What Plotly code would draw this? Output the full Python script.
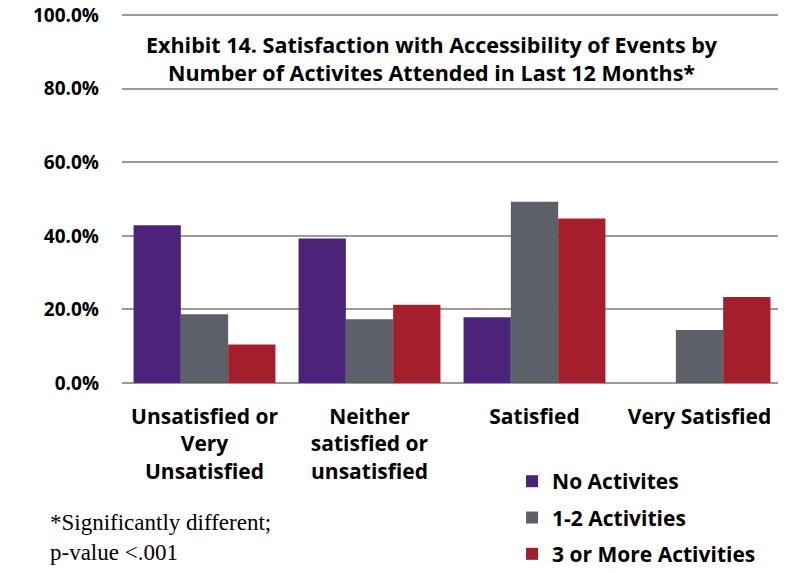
import plotly.graph_objects as go

categories = ["Unsatisfied or<br>Very<br>Unsatisfied", "Neither<br>satisfied or<br>unsatisfied", "Satisfied", "Very Satisfied"]
series_names = ["No Activites", "1-2 Activities", "3 or More Activities"]
no_activities = [42.9, 39.3, 17.9, None]
one_two_activities = [18.7, 17.3, 49.3, 14.4]
three_plus_activities = [10.5, 21.3, 44.7, 23.4]
colors = ["#4B2479", "#5E6068", "#A51E2B"]
tick_vals = [0, 20, 40, 60, 80, 100]
tick_text = ["0.0%", "20.0%", "40.0%", "60.0%", "80.0%", "100.0%"]

fig = go.Figure()
for i, (name, vals) in enumerate(zip(series_names, [no_activities, one_two_activities, three_plus_activities])):
    fig.add_trace(go.Bar(x=categories, y=vals, name=name, marker_color=colors[i],
                         marker_line_width=0, legendgroup=str(i)))

bold_font = "Open Sans"
fig.update_layout(
    width=786, height=573,
    margin=dict(l=114, r=12, t=5, b=198, autoexpand=False),
    paper_bgcolor="white", plot_bgcolor="white",
    barmode="group", bargap=0.14, bargroupgap=0,
    font=dict(family=bold_font, color="black", size=18, weight="bold"),
    showlegend=True,
    legend=dict(x=0.591, y=-0.211, xanchor="left", yanchor="top",
                font=dict(family=bold_font, size=21, weight="bold", color="black"),
                tracegroupgap=6, itemwidth=30, bgcolor="rgba(0,0,0,0)"),
    xaxis=dict(showgrid=False, ticks="", ticklabelstandoff=19, automargin=False,
               tickfont=dict(family=bold_font, size=21, weight="bold", color="black"),
               showline=False),
    yaxis=dict(range=[0, 100.6], tickvals=tick_vals, ticktext=tick_text, automargin=False,
               showgrid=True, gridcolor="#9A9A9A", gridwidth=2,
               zeroline=True, zerolinecolor="#9A9A9A", zerolinewidth=2,
               ticklabelstandoff=22, ticklabeloverflow="allow",
               tickfont=dict(family=bold_font, size=19, weight="bold", color="black")),
    annotations=[
        dict(text="Exhibit 14. Satisfaction with Accessibility of Events by<br>Number of Activites Attended in Last 12 Months*",
             x=0.4697, y=0.877, xref="paper", yref="paper", xanchor="center", yanchor="middle",
             showarrow=False, align="center",
             font=dict(family=bold_font, size=21.5, weight="bold", color="black")),
        dict(text="*Significantly different;<br>p-value <.001",
             x=-0.112, y=-0.339, xref="paper", yref="paper", xanchor="left", yanchor="top",
             showarrow=False, align="left",
             font=dict(family="Liberation Serif", size=23, weight="normal", color="black")),
    ],
)

fig.write_html("out.html")
